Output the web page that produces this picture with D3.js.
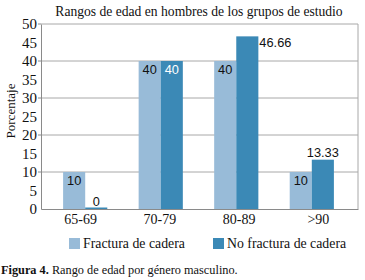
<!DOCTYPE html>
<html>
<head>
<meta charset="utf-8">
<script src="https://cdn.jsdelivr.net/npm/d3@7"></script>
<style>
  body { margin: 0; background: #fff; }
  svg { display: block; }
  .serif { font-family: 'Liberation Serif', 'DejaVu Serif', serif; }
  .sans { font-family: 'Liberation Sans', Arial, sans-serif; }
</style>
</head>
<body>
<div id="container"></div>
<script>
// chart data
const categories = ["65-69", "70-79", "80-89", ">90"];
const seriesNames = ["Fractura de cadera", "No fractura de cadera"];
const fractura = [10, 40, 40, 10];
const noFractura = [0, 40, 46.66, 13.33];
const labelText = ["10", "40", "40", "10"];
const labelText2 = ["0", "40", "46.66", "13.33"];
const yTicks = [0, 5, 10, 15, 20, 25, 30, 35, 40, 45, 50];
const gridTicks = [10, 20, 30, 40, 50];

const width = 365, height = 280;
const colors = ["#98bbd8", "#3b89b6"];

const plot = { left: 41, right: 358, top: 24, bottom: 209 };

const svg = d3.select("#container").append("svg")
    .attr("width", width)
    .attr("height", height);

const y = d3.scaleLinear().domain([0, 50]).range([plot.bottom, plot.top]);

// axis labels use the full plot width, bars sit a bit tighter
const xAxisScale = d3.scaleBand().domain(categories).range([plot.left, plot.right]);
const x = d3.scaleBand().domain(categories).range([48, 349]).paddingInner(0.415).paddingOuter(0.2);
const xSub = d3.scaleBand().domain([0, 1]).range([0, x.bandwidth()]);

// title
svg.append("text")
    .attr("class", "serif")
    .attr("x", 199).attr("y", 16)
    .attr("text-anchor", "middle")
    .style("font-size", "13.6px")
    .attr("fill", "#111")
    .text("Rangos de edad en hombres de los grupos de estudio");

// gridlines
svg.append("g").selectAll("line").data(gridTicks).join("line")
    .attr("x1", plot.left).attr("x2", plot.right)
    .attr("y1", d => y(d)).attr("y2", d => y(d))
    .attr("stroke", "#a8a8a8").attr("stroke-width", 1);

// right border
svg.append("line")
    .attr("x1", plot.right).attr("x2", plot.right)
    .attr("y1", plot.top).attr("y2", plot.bottom)
    .attr("stroke", "#a8a8a8");

// y axis
const yAxis = svg.append("g")
    .attr("transform", `translate(${plot.left},0)`)
    .call(d3.axisLeft(y).tickValues(yTicks).tickSize(0).tickPadding(4));
yAxis.select(".domain").attr("stroke", "#8a8a8a");
yAxis.selectAll("text").attr("class", "serif").style("font-size", "15px").attr("fill", "#111");
yAxis.selectAll(".tk").data(gridTicks).join("line")
    .attr("x1", -3).attr("x2", 0)
    .attr("y1", d => y(d)).attr("y2", d => y(d))
    .attr("stroke", "#8a8a8a");

// x axis
const xAxis = svg.append("g")
    .attr("transform", `translate(0,${plot.bottom})`)
    .call(d3.axisBottom(xAxisScale).tickSize(0).tickPadding(5));
xAxis.select(".domain").attr("stroke", "#8a8a8a");
xAxis.selectAll("text").attr("class", "serif").style("font-size", "14px").attr("fill", "#111");

// y title
svg.append("text")
    .attr("class", "serif")
    .attr("transform", `translate(15,111) rotate(-90)`)
    .attr("text-anchor", "middle")
    .style("font-size", "13px")
    .attr("fill", "#111")
    .text("Porcentaje");

// bars
const rows = categories.map((c, i) => ({ c, vals: [fractura[i], noFractura[i]], labs: [labelText[i], labelText2[i]] }));
const groups = svg.append("g").selectAll("g").data(rows).join("g")
    .attr("transform", d => `translate(${x(d.c)},0)`);

groups.selectAll("rect").data(d => d.vals.map((v, s) => ({ v, s }))).join("rect")
    .attr("x", d => xSub(d.s))
    .attr("width", xSub.bandwidth())
    .attr("y", d => Math.min(y(d.v), plot.bottom - 1.5))
    .attr("height", d => Math.max(plot.bottom - y(d.v), 1.5))
    .attr("fill", d => colors[d.s]);

// data labels
groups.selectAll("text").data(d => d.vals.map((v, s) => ({ v, s, t: d.labs[s] }))).join("text")
    .attr("class", "sans")
    .style("font-size", "12.8px")
    .attr("fill", d => (d.s === 1 && d.v >= 20 && d.v <= 45) ? "#fff" : "#111")
    .attr("text-anchor", d => (d.s === 1 && d.v > 45) ? "start" : "middle")
    .attr("x", d => {
        if (d.s === 1 && d.v > 45) return xSub(d.s) + xSub.bandwidth() + 1;
        return xSub(d.s) + xSub.bandwidth() / 2;
    })
    .attr("y", d => {
        if (d.s === 0 || (d.v >= 20 && d.v <= 45)) return y(d.v) + 13;
        if (d.v > 45) return y(d.v) + 11;
        return y(d.v) - 3;
    })
    .text(d => d.t);

// legend
const legend = svg.append("g");
const legendX = [69, 213];
seriesNames.forEach((name, i) => {
    legend.append("rect")
        .attr("x", legendX[i]).attr("y", 238)
        .attr("width", 11).attr("height", 11)
        .attr("fill", colors[i]);
    legend.append("text")
        .attr("class", "serif")
        .attr("x", legendX[i] + 14).attr("y", 248)
        .style("font-size", "13.8px")
        .attr("fill", "#111")
        .text(name);
});

// caption
const cap = svg.append("text")
    .attr("class", "serif")
    .attr("x", 1).attr("y", 274)
    .style("font-size", "12.3px")
    .attr("fill", "#111");
cap.append("tspan").attr("font-weight", "bold").text("Figura 4.");
cap.append("tspan").text(" Rango de edad por género masculino.");
</script>
</body>
</html>
